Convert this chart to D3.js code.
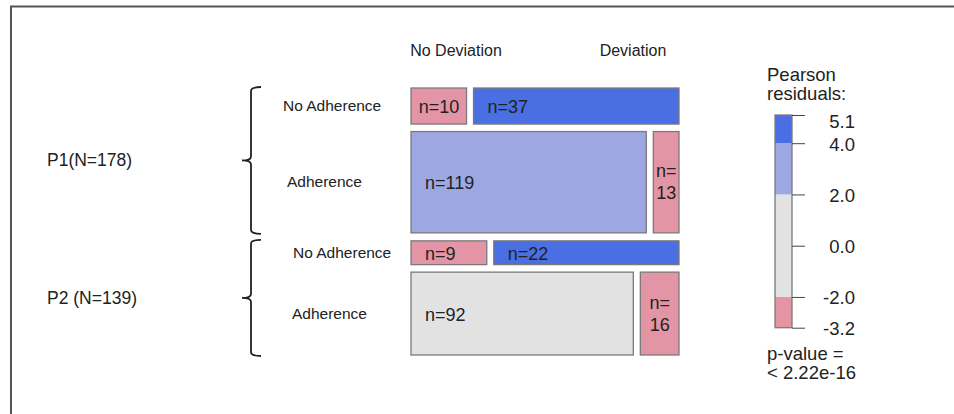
<!DOCTYPE html>
<html>
<head>
<meta charset="utf-8">
<script src="https://cdn.jsdelivr.net/npm/d3@7"></script>
<style>
  body { margin: 0; background: #fff; }
  text { font-family: "Liberation Sans", Arial, sans-serif; fill: #222; }
</style>
</head>
<body>
<div id="container"></div>
<script>
let w = 954;
let h = 414;

// data
let periods = ["P1(N=178)", "P2 (N=139)"];
let adherence = ["No Adherence", "Adherence"];
let deviation = ["No Deviation", "Deviation"];
// counts[period][adherence][deviation]
let countsP1 = [[10, 37], [119, 13]];
let countsP2 = [[9, 22], [92, 16]];
// pearson residuals (estimated from the shading)
let residP1 = [[-3.2, 5.1], [2.6, -2.4]];
let residP2 = [[-2.3, 4.4], [1.1, -2.5]];
let legendBreaks = [-3.2, -2, 2, 4, 5.1];
let legendTicks = [5.1, 4.0, 2.0, 0.0, -2.0, -3.2];
let pValueText = ["p-value =", "< 2.22e-16"];

let counts = [countsP1, countsP2];
let resids = [residP1, residP2];

let viz = d3.select("#container")
    .append("svg")
      .attr("width", w)
      .attr("height", h)
      .style("display", "block");

// frame
viz.append("path")
    .attr("d", "M11," + h + " L11,6.5 L" + w + ",6.5")
    .attr("fill", "none")
    .attr("stroke", "#555")
    .attr("stroke-width", 2);

let shade = d3.scaleThreshold()
    .domain([-4, -2, 2, 4])
    .range(["#D33F6A", "#E495A5", "#E2E2E2", "#9DA8E2", "#4A6FE3"]);

// mosaic area
let mx0 = 411, mx1 = 679;
let my0 = 88, my1 = 355;
let gapP = 8, gapA = 7.5, gapD = 7;

let totals = counts.map(p => d3.sum(p, r => d3.sum(r)));
let grand = d3.sum(totals);
let usableH = (my1 - my0) - gapP * (periods.length - 1) - gapA * periods.length * (adherence.length - 1);
let yScale = d3.scaleLinear().domain([0, grand]).range([0, usableH]);

let tiles = [];
let panels = [];
let yCur = my0;
counts.forEach(function(p, pi){
  let pTop = yCur;
  p.forEach(function(row, ai){
    let rowTotal = d3.sum(row);
    let rh = yScale(rowTotal);
    let xs = d3.scaleLinear().domain([0, rowTotal]).range([mx0, mx1 - gapD * (row.length - 1)]);
    let cum = 0;
    row.forEach(function(n, di){
      tiles.push({
        n: n, r: resids[pi][ai][di],
        x: xs(cum) + di * gapD, y: yCur,
        w: xs(n) - xs(0), h: rh
      });
      cum += n;
    });
    panels.push({label: adherence[ai], period: pi, cy: yCur + rh / 2});
    yCur += rh + (ai < p.length - 1 ? gapA : 0);
  });
  panels[pi * 2].pTop = pTop;
  panels[pi * 2].pBottom = yCur;
  yCur += gapP;
});

// column headers
viz.selectAll(".colhead")
  .data(deviation)
  .enter()
  .append("text")
    .attr("class", "colhead")
    .attr("x", (d, i) => i == 0 ? mx0 + 45 : mx1 - 46)
    .attr("y", 56)
    .attr("text-anchor", "middle")
    .style("font-size", "16px")
    .text(d => d);

// tiles
let tileG = viz.selectAll(".tile")
  .data(tiles)
  .enter()
  .append("g")
    .attr("class", "tile");

tileG.append("rect")
    .attr("x", d => d.x)
    .attr("y", d => d.y)
    .attr("width", d => d.w)
    .attr("height", d => d.h)
    .attr("fill", d => shade(d.r))
    .attr("stroke", "#7a7a7a")
    .attr("stroke-width", 1.3);

tileG.each(function(d){
  let g = d3.select(this);
  let cy = d.y + d.h / 2;
  if(d.w > 45){
    let label = "n=" + d.n;
    let inset = d.w > 70 ? 14 : (d.w - label.length * 10) / 2;
    g.append("text")
        .attr("x", d.x + inset)
        .attr("y", cy + 7)
        .style("font-size", "18px")
        .text(label);
  } else {
    g.append("text")
        .attr("x", d.x + d.w / 2)
        .attr("y", cy - 5)
        .attr("text-anchor", "middle")
        .style("font-size", "18px")
        .text("n=");
    g.append("text")
        .attr("x", d.x + d.w / 2)
        .attr("y", cy + 17)
        .attr("text-anchor", "middle")
        .style("font-size", "18px")
        .text(d.n);
  }
});

// row labels
viz.selectAll(".rowlab")
  .data(panels)
  .enter()
  .append("text")
    .attr("class", "rowlab")
    .attr("x", d => d.period == 0 ? (d.label == "Adherence" ? 287 : 283) : (d.label == "Adherence" ? 292 : 293))
    .attr("y", d => d.cy + 5)
    .style("font-size", "15.5px")
    .text(d => d.label);

// braces and period labels
let braces = panels.filter(d => d.pTop != undefined);
braces.forEach(function(b, i){
  let t = b.pTop - 1, bt = b.pBottom + 1, m = (t + bt) / 2;
  let vx = 251, hx = 261, tip = 242;
  let path = d3.path();
  path.moveTo(hx, t);
  path.quadraticCurveTo(vx, t, vx, t + 4);
  path.lineTo(vx, m - 4);
  path.quadraticCurveTo(vx, m, tip, m);
  path.quadraticCurveTo(vx, m, vx, m + 4);
  path.lineTo(vx, bt - 4);
  path.quadraticCurveTo(vx, bt, hx, bt);
  viz.append("path")
      .attr("d", path.toString())
      .attr("fill", "none")
      .attr("stroke", "#222")
      .attr("stroke-width", 1.8);

  viz.append("text")
      .attr("x", 47)
      .attr("y", m + 6)
      .style("font-size", "17.5px")
      .text(periods[i]);
});

// legend
let lx = 775, lw = 17;
let legendScale = d3.scaleLinear().domain([-3.2, 5.1]).range([327.7, 115]);

viz.append("text")
    .attr("x", 767)
    .attr("y", 80.5)
    .style("font-size", "18.5px")
    .text("Pearson");
viz.append("text")
    .attr("x", 767)
    .attr("y", 100)
    .style("font-size", "18.5px")
    .text("residuals:");

let bands = d3.pairs(legendBreaks);
viz.selectAll(".band")
  .data(bands)
  .enter()
  .append("rect")
    .attr("class", "band")
    .attr("x", lx)
    .attr("y", d => legendScale(d[1]))
    .attr("width", lw)
    .attr("height", d => legendScale(d[0]) - legendScale(d[1]))
    .attr("fill", d => shade((d[0] + d[1]) / 2));

viz.append("rect")
    .attr("x", lx)
    .attr("y", legendScale(5.1))
    .attr("width", lw)
    .attr("height", legendScale(-3.2) - legendScale(5.1))
    .attr("fill", "none")
    .attr("stroke", "#7a7a7a")
    .attr("stroke-width", 1.3);

let legendAxis = d3.axisRight(legendScale)
    .tickValues(legendTicks)
    .tickFormat(d => d.toFixed(1))
    .tickSize(13)
    .tickPadding(12);

let legendAxisGroup = viz.append("g")
    .attr("transform", "translate(" + (lx + lw) + ",0)")
    .call(legendAxis);
legendAxisGroup.select(".domain").remove();
legendAxisGroup.selectAll("line").attr("stroke", "#444");
legendAxisGroup.selectAll("text")
    .attr("x", 63)
    .attr("text-anchor", "end")
    .attr("dy", null)
    .attr("y", 7)
    .style("font-family", "'Liberation Sans', Arial, sans-serif")
    .style("font-size", "18.5px")
    .style("fill", "#222");
legendAxisGroup.selectAll(".tick")
    .filter(d => d == 5.1)
    .select("text")
    .attr("y", 12);

viz.selectAll(".pval")
  .data(pValueText)
  .enter()
  .append("text")
    .attr("class", "pval")
    .attr("x", 767)
    .attr("y", (d, i) => 360 + i * 19)
    .style("font-size", "18.5px")
    .text(d => d);
</script>
</body>
</html>
